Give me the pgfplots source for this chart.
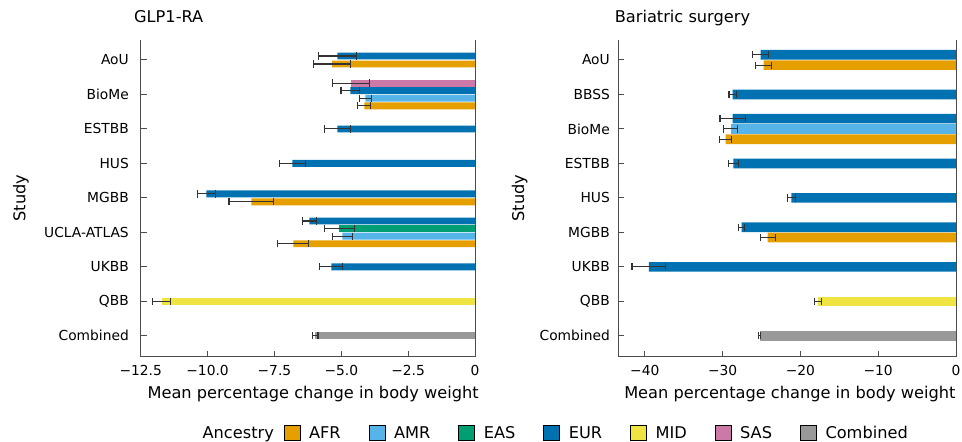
\documentclass[border=0pt]{standalone}
\usepackage{fontspec}
\setmainfont{DejaVu Sans}
\usepackage{pgfplots}
\pgfplotsset{compat=1.18}
\definecolor{cAFR}{HTML}{E69F00}
\definecolor{cAMR}{HTML}{56B4E9}
\definecolor{cEAS}{HTML}{009E73}
\definecolor{cEUR}{HTML}{0072B2}
\definecolor{cMID}{HTML}{F0E442}
\definecolor{cSAS}{HTML}{CC79A7}
\definecolor{cCMB}{HTML}{999999}
\newcommand{\tickfont}{\fontsize{13.8}{16}\selectfont}
\newcommand{\labfont}{\fontsize{16.2}{19}\selectfont}
\pgfplotsset{
  panel/.style={
    scale only axis, height=316.5pt,
    ymin=-0.6, ymax=8.58,
    axis x line*=bottom, axis y line*=left,
    axis line style={black!70, line width=1pt},
    every tick/.style={black!70, line width=1pt},
    tick align=inside, major tick length=6pt,
    ytick={0,1,...,8},
    tick label style={font=\tickfont},
    xticklabel style={yshift=-5.6pt},
    title style={font=\labfont, anchor=base west, at={(axis description cs:0,1)}, yshift=11.7pt},
    xlabel style={font=\labfont, anchor=base, yshift=-41.8pt},
    ylabel style={font=\labfont, anchor=base},
    ylabel={Study},
    xlabel={Mean percentage change in body weight},
    clip=false,
  },
  mybar/.style={xbar, bar shift=0pt, draw=none, fill=#1, forget plot,
    error bars/x dir=both, error bars/x explicit,
    error bars/error bar style={black!80, line width=1.1pt},
    error bars/error mark options={rotate=90, black!80, line width=1.1pt, mark size=3.6pt}},
}
\begin{document}
\begin{tikzpicture}
\path[use as bounding box] (-140.7pt,-85.5pt) rectangle (821.3pt,356.5pt);
% ---------------- GLP1-RA ----------------
\begin{axis}[panel, width=334.3pt,
  xmin=-12.5, xmax=0,
  xtick={-12.5,-10,-7.5,-5,-2.5,0},
  xticklabels={−12.5,−10.0,−7.5,−5.0,−2.5,0},
  yticklabels={Combined,QBB,UKBB,UCLA-ATLAS,MGBB,HUS,ESTBB,BioMe,AoU},
  yticklabel style={xshift=-8.4pt},
  title={GLP1-RA}, title style={xshift=-10.1pt},
  xlabel style={at={(axis description cs:0.516,0)}},
  ylabel style={at={(axis description cs:-0.345,0.5)}},
  legend columns=-1,
  legend style={at={(axis description cs:1.2265,-0.2417)}, anchor=center,
    draw=none, fill=none, font=\labfont,
    nodes={inner xsep=0pt},
    /tikz/every even column/.append style={column sep=28pt},
    /tikz/every odd column/.append style={column sep=9pt}},
  legend image code/.code={\fill[#1] (0pt,-7.5pt) rectangle (16pt,7.5pt);},
]
\addplot[mybar=cAFR, bar width=0.2] table[x=x, y=y, x error=e] {
x y e
-5.34 7.885 0.70
-4.14 6.67 0.24
-8.36 3.885 0.84
-6.79 2.67 0.58
};
\addplot[mybar=cAMR, bar width=0.2] table[x=x, y=y, x error=e] {
x y e
-4.10 6.89 0.23
-4.96 2.89 0.37
};
\addplot[mybar=cEAS, bar width=0.2] table[x=x, y=y, x error=e] {
x y e
-5.07 3.11 0.55
};
\addplot[mybar=cEUR, bar width=0.2] table[x=x, y=y, x error=e] {
x y e
-5.15 8.115 0.71
-4.66 7.11 0.35
-5.15 6 0.48
-6.83 5 0.49
-10.04 4.115 0.35
-6.19 3.33 0.26
-5.37 2 0.43
};
\addplot[mybar=cMID, bar width=0.2] table[x=x, y=y, x error=e] {
x y e
-11.72 1 0.33
};
\addplot[mybar=cSAS, bar width=0.2] table[x=x, y=y, x error=e] {
x y e
-4.63 7.33 0.69
};
\addplot[mybar=cCMB, bar width=0.2] table[x=x, y=y, x error=e] {
x y e
-5.97 0 0.10
};
\addplot[black!70, line width=1pt, forget plot] coordinates {(0,-0.6) (0,8.58)};
\addlegendimage{empty legend}\addlegendentry{\makebox[53pt][l]{Ancestry}}
\addlegendimage{fill=cAFR}\addlegendentry{AFR}
\addlegendimage{fill=cAMR}\addlegendentry{AMR}
\addlegendimage{fill=cEAS}\addlegendentry{EAS}
\addlegendimage{fill=cEUR}\addlegendentry{EUR}
\addlegendimage{fill=cMID}\addlegendentry{MID}
\addlegendimage{fill=cSAS}\addlegendentry{SAS}
\addlegendimage{fill=cCMB}\addlegendentry{Combined}
\end{axis}
% ---------------- Bariatric surgery ----------------
\begin{axis}[panel, width=337.7pt, at={(477.6pt,0pt)},
  xmin=-43.4, xmax=0,
  xtick={-40,-30,-20,-10,0},
  xticklabels={−40,−30,−20,−10,0},
  yticklabels={Combined,QBB,UKBB,MGBB,HUS,ESTBB,BioMe,BBSS,AoU},
  yticklabel style={xshift=-5pt},
  title={Bariatric surgery}, title style={xshift=-7pt},
  xlabel style={at={(axis description cs:0.508,0)}},
  ylabel style={at={(axis description cs:-0.279,0.5)}},
]
\addplot[mybar=cAFR, bar width=0.28] table[x=x, y=y, x error=e] {
x y e
-24.71 7.85 1.03
-29.60 5.70 0.77
-24.20 2.85 0.98
};
\addplot[mybar=cAMR, bar width=0.28] table[x=x, y=y, x error=e] {
x y e
-28.96 6 0.93
};
\addplot[mybar=cEUR, bar width=0.28] table[x=x, y=y, x error=e] {
x y e
-25.10 8.15 1.00
-28.70 7 0.47
-28.70 6.30 1.63
-28.60 5 0.66
-21.15 4 0.49
-27.54 3.15 0.40
-39.47 2 2.17
};
\addplot[mybar=cMID, bar width=0.28] table[x=x, y=y, x error=e] {
x y e
-17.76 1 0.47
};
\addplot[mybar=cCMB, bar width=0.28] table[x=x, y=y, x error=e] {
x y e
-25.25 0 0.15
};
\addplot[black!70, line width=1pt, forget plot] coordinates {(0,-0.6) (0,8.58)};
\end{axis}
\end{tikzpicture}
\end{document}
